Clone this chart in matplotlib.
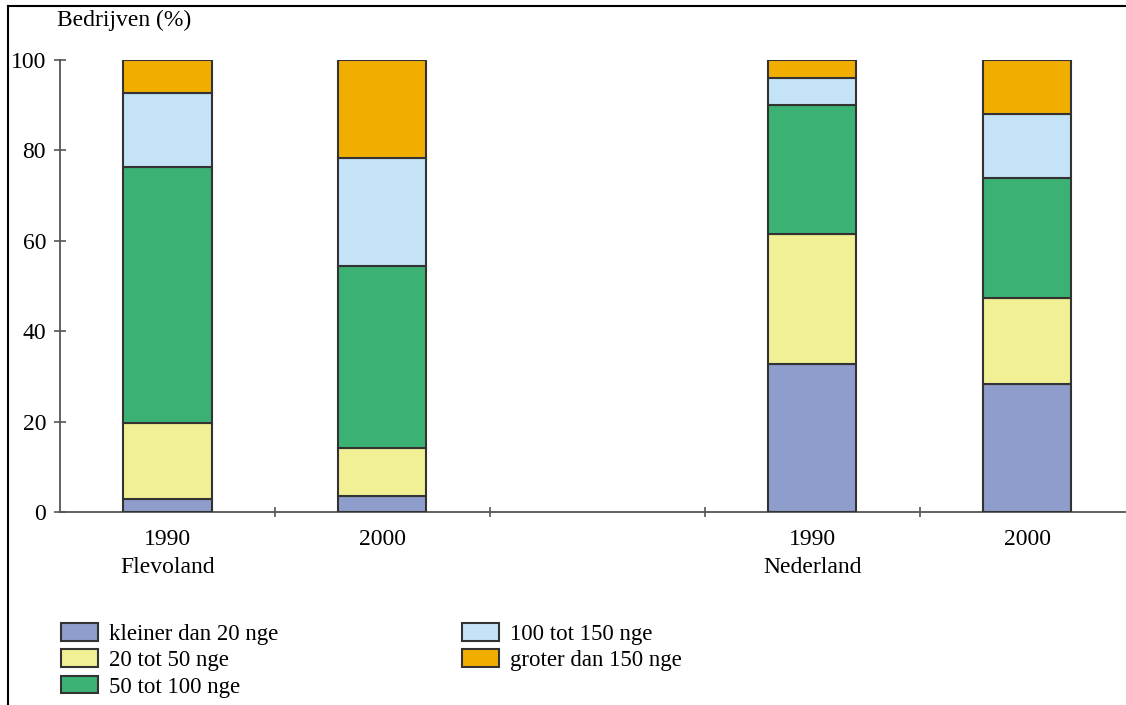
import numpy as np
import matplotlib.pyplot as plt
from matplotlib.lines import Line2D

plt.rcParams["font.family"] = ["Liberation Serif", "DejaVu Serif"]

# positions 0,1 = Flevoland, 3,4 = Nederland (2 is an empty gap)
positions = [0, 1, 3, 4]
years = ["1990", "2000", "1990", "2000"]
regions = ["Flevoland", "Nederland"]
region_pos = [0, 3]

classes = ["kleiner dan 20 nge", "20 tot 50 nge", "50 tot 100 nge",
           "100 tot 150 nge", "groter dan 150 nge"]
kleiner_20 = [2.8, 3.5, 32.7, 28.3]
tot_50 = [16.8, 10.7, 28.8, 19.0]
tot_100 = [56.8, 40.2, 28.5, 26.6]
tot_150 = [16.4, 23.9, 6.0, 14.1]
groter_150 = [7.2, 21.7, 4.0, 12.0]
colors = ["#8e9dcb", "#f2f095", "#3bb273", "#c4e3f7", "#f2ae00"]

fig = plt.figure(figsize=(11.26, 7.05), dpi=100)
ax = fig.add_axes([60 / 1126, 193 / 705, 1066 / 1126, 452 / 705])

series = [kleiner_20, tot_50, tot_100, tot_150, groter_150]
bottom = np.zeros(len(positions))
handles = []
for vals, col, lab in zip(series, colors, classes):
    b = ax.bar(positions, vals, width=0.41, bottom=bottom, color=col,
               edgecolor="#333333", linewidth=1.5, label=lab, zorder=3)
    bottom += np.array(vals)
    handles.append(b)

ax.set_xlim(-0.5, 4.46)
ax.set_ylim(0, 100)
ax.set_yticks([0, 20, 40, 60, 80, 100])
ax.tick_params(axis="y", direction="inout", length=8, width=1.2,
               color="#555555", labelsize=17, pad=6)
ax.set_xticks(positions)
ax.set_xticklabels(years)
ax.set_xticks([0.5, 1.5, 2.5, 3.5], minor=True)
ax.tick_params(axis="x", which="major", length=0, labelsize=17, pad=12)
ax.tick_params(axis="x", which="minor", direction="inout", length=7,
               width=1.2, color="#555555")
for s in ["top", "right"]:
    ax.spines[s].set_visible(False)
for s in ["left", "bottom"]:
    ax.spines[s].set_color("#555555")
    ax.spines[s].set_linewidth(1.3)

for r, p in zip(regions, region_pos):
    ax.text(p, -12.3, r, ha="center", va="center", fontsize=17,
            transform=ax.transData, clip_on=False)

fig.text(57 / 1126, 1 - 20 / 705, "Bedrijven (%)", fontsize=17,
         ha="left", va="center")

fig.legend(handles, classes,
           loc="upper left", bbox_to_anchor=(52 / 1126, 1 - 614 / 705),
           ncol=2, frameon=False, fontsize=16.5, handlelength=1.6,
           handleheight=0.8, handletextpad=0.5, columnspacing=8.0,
           labelspacing=0.2, borderaxespad=0)

# frame lines of the original picture
fig.add_artist(Line2D([8 / 1126, 1], [1 - 6 / 705, 1 - 6 / 705],
                      color="black", lw=1.5, transform=fig.transFigure))
fig.add_artist(Line2D([8 / 1126, 8 / 1126], [0, 1 - 6 / 705],
                      color="black", lw=1.5, transform=fig.transFigure))

fig.savefig("out.png", dpi=100)
